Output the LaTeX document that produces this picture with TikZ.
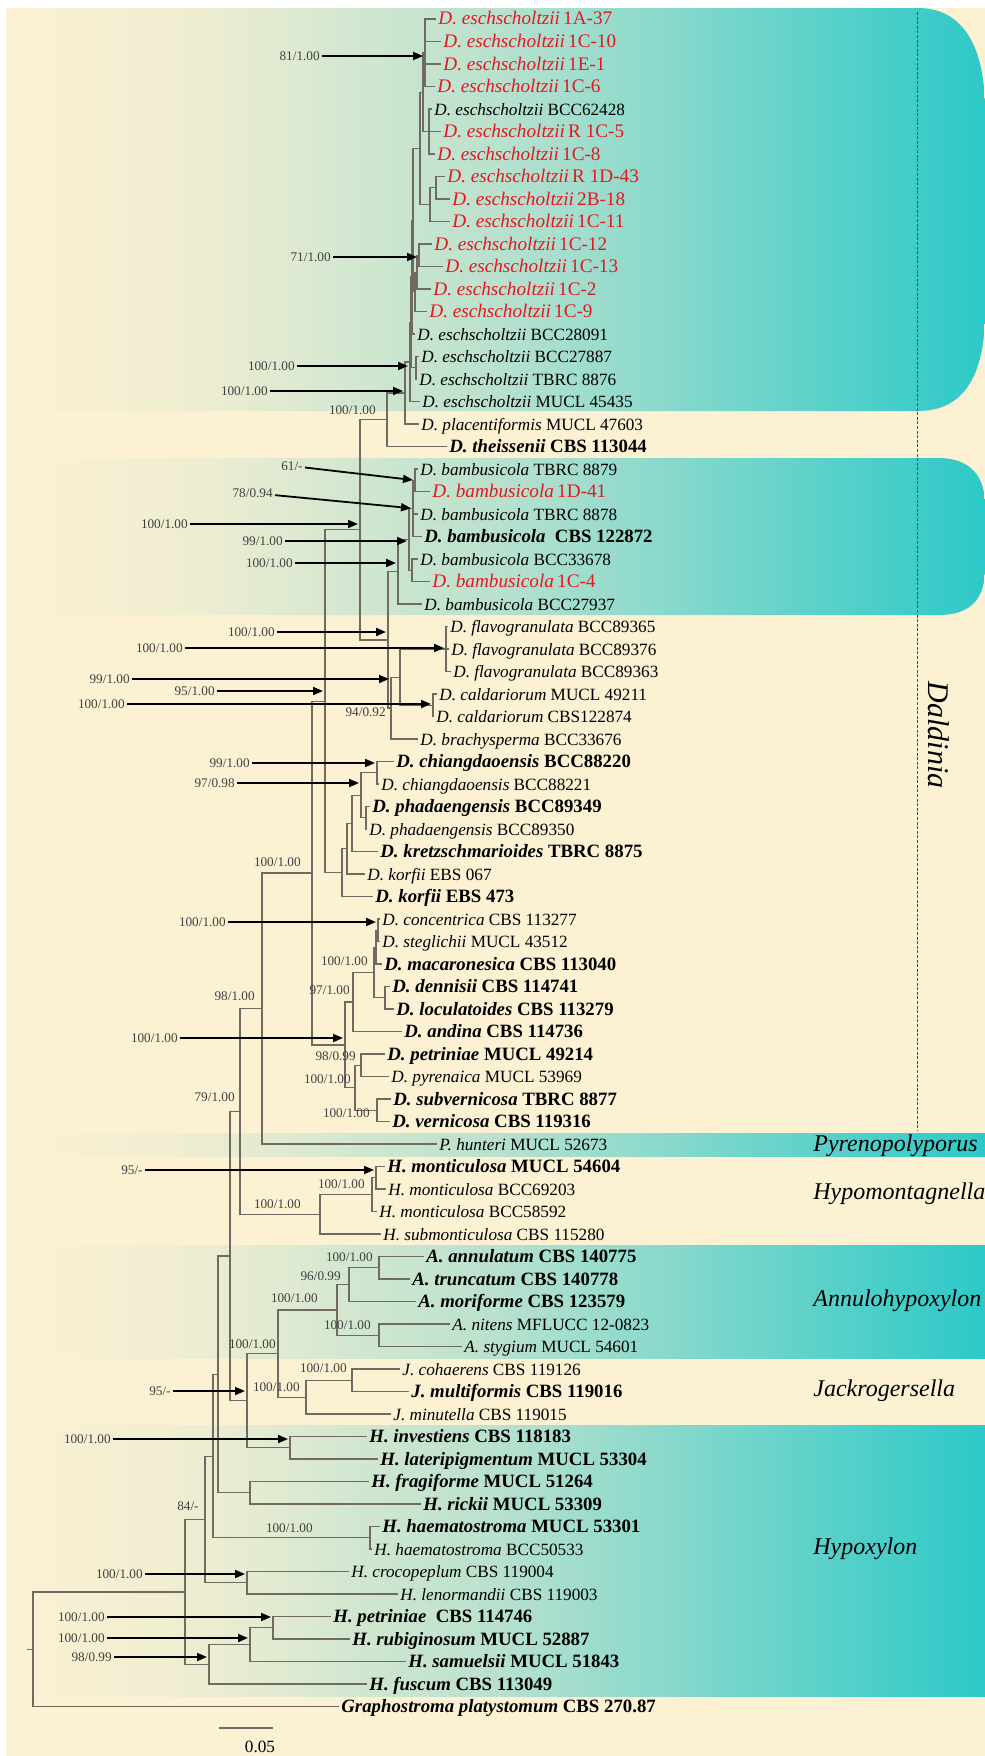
\documentclass[tikz,border=0pt]{standalone}
\usepackage{fontspec}
\setmainfont{Liberation Serif}
\usepackage{xcolor}
\usepackage{tikz}
\usetikzlibrary{calc, arrows.meta, positioning}

\definecolor{paper}{RGB}{253,241,211}
\definecolor{bandA}{RGB}{238,237,209}
\definecolor{bandB}{RGB}{185,225,206}
\definecolor{tealband}{RGB}{44,201,200}
\definecolor{branch}{RGB}{112,106,96}
\definecolor{redlab}{RGB}{228,24,32}

\pgfdeclarehorizontalshading{bandfade}{100bp}{color(0bp)=(paper); color(25bp)=(paper); color(35bp)=(bandA); color(50bp)=(bandB); color(75bp)=(tealband); color(100bp)=(tealband)}

\newcommand{\spc}[2]{\textit{#1} #2}
\newcommand{\spr}[2]{\textit{#1}\,#2}

\begin{document}
\begin{tikzpicture}[x=0.5pt, y=-0.5pt]
            %Block styles
            \tikzstyle{br} = [draw=branch, line width=0.6pt]
            \tikzstyle{leaf} = [anchor=west, inner sep=1pt, text height=6pt, text depth=0pt, font=\fontsize{8.6}{10}\selectfont, text=black]
            \tikzstyle{leafr} = [leaf, font=\fontsize{9.6}{11}\selectfont, text=redlab]
            \tikzstyle{leafb} = [leaf, font=\fontsize{9.4}{11}\selectfont\bfseries]
            \tikzstyle{sup} = [anchor=east, inner sep=1pt, font=\fontsize{6.6}{8}\selectfont, text=black!75]
            \tikzstyle{arr} = [-{Triangle[length=5pt,width=4pt]}, line width=0.9pt, shorten >=1pt]
            \tikzstyle{genus} = [anchor=west, inner sep=0pt, font=\fontsize{12}{14}\selectfont\itshape]

            \useasboundingbox (0,0) rectangle (985,1756);

            %Background and bands
            \fill[white] (0,0) rectangle (985,1756);
            \fill[paper] (6,8) rectangle (985,1756);
            \shade[shading=bandfade] (6,8) -- (918,8) .. controls (962,8) and (985,45) .. (985,110) -- (985,312) .. controls (985,378) and (962,411) .. (918,411) -- (6,411) -- cycle;
            \shade[shading=bandfade] (6,458) -- (938,458) .. controls (972,458) and (985,478) .. (985,505) -- (985,568) .. controls (985,598) and (972,615) .. (938,615) -- (6,615) -- cycle;
            \shade[shading=bandfade] (6,1133) rectangle (985,1156);
            \shade[shading=bandfade] (6,1245) rectangle (985,1358);
            \shade[shading=bandfade] (6,1425) rectangle (985,1696);
            \draw[black!70, line width=0.5pt, dash pattern=on 1.5pt off 0.8pt] (917,12) -- (917,1130);

            %Genera
            \node[genus, anchor=center, rotate=-90, font=\fontsize{15}{17}\selectfont\itshape] (gdal) at (939,735) {Daldinia};
            \node[genus] (gpyr) at (813,1146) {Pyrenopolyporus};
            \node[genus] (ghym) at (813,1194) {Hypomontagnella};
            \node[genus] (gann) at (813,1301) {Annulohypoxylon};
            \node[genus] (gjac) at (813,1391) {Jackrogersella};
            \node[genus] (ghyp) at (813,1549) {Hypoxylon};

            %Taxa
            \node[leafr] (t1) at (436,19) {\spr{D. eschscholtzii}{1A-37}};
            \node[leafr] (t2) at (441,41.5) {\spr{D. eschscholtzii}{1C-10}};
            \node[leafr] (t3) at (441,64) {\spr{D. eschscholtzii}{1E-1}};
            \node[leafr] (t4) at (435,86.5) {\spr{D. eschscholtzii}{1C-6}};
            \node[leaf] (t5) at (432,109) {\spc{D. eschscholtzii}{BCC62428}};
            \node[leafr] (t6) at (441,131.5) {\spr{D. eschscholtzii}{R 1C-5}};
            \node[leafr] (t7) at (435,154) {\spr{D. eschscholtzii}{1C-8}};
            \node[leafr] (t8) at (445,176.5) {\spr{D. eschscholtzii}{R 1D-43}};
            \node[leafr] (t9) at (450,199) {\spr{D. eschscholtzii}{2B-18}};
            \node[leafr] (t10) at (450,221.5) {\spr{D. eschscholtzii}{1C-11}};
            \node[leafr] (t11) at (432,244) {\spr{D. eschscholtzii}{1C-12}};
            \node[leafr] (t12) at (443,266.5) {\spr{D. eschscholtzii}{1C-13}};
            \node[leafr] (t13) at (431,289) {\spr{D. eschscholtzii}{1C-2}};
            \node[leafr] (t14) at (427,311.5) {\spr{D. eschscholtzii}{1C-9}};
            \node[leaf] (t15) at (415,334) {\spc{D. eschscholtzii}{BCC28091}};
            \node[leaf] (t16) at (419,356.5) {\spc{D. eschscholtzii}{BCC27887}};
            \node[leaf] (t17) at (417,379) {\spc{D. eschscholtzii}{TBRC 8876}};
            \node[leaf] (t18) at (420,401.5) {\spc{D. eschscholtzii}{MUCL 45435}};
            \node[leaf] (t19) at (419,424) {\spc{D. placentiformis}{MUCL 47603}};
            \node[leafb] (t20) at (447,446.5) {\spc{D. theissenii}{CBS 113044}};
            \node[leaf] (t21) at (418,469) {\spc{D. bambusicola}{TBRC 8879}};
            \node[leafr] (t22) at (430,491.5) {\spr{D. bambusicola}{1D-41}};
            \node[leaf] (t23) at (418,514) {\spc{D. bambusicola}{TBRC 8878}};
            \node[leafb] (t24) at (422,536.5) {\spc{D. bambusicola}{\ CBS 122872}};
            \node[leaf] (t25) at (418,559) {\spc{D. bambusicola}{BCC33678}};
            \node[leafr] (t26) at (430,581.5) {\spr{D. bambusicola}{1C-4}};
            \node[leaf] (t27) at (422,604) {\spc{D. bambusicola}{BCC27937}};
            \node[leaf] (t28) at (448,626.5) {\spc{D. flavogranulata}{BCC89365}};
            \node[leaf] (t29) at (449,649) {\spc{D. flavogranulata}{BCC89376}};
            \node[leaf] (t30) at (451,671.5) {\spc{D. flavogranulata}{BCC89363}};
            \node[leaf] (t31) at (437,694) {\spc{D. caldariorum}{MUCL 49211}};
            \node[leaf] (t32) at (434,716.5) {\spc{D. caldariorum}{CBS122874}};
            \node[leaf] (t33) at (418,739) {\spc{D. brachysperma}{BCC33676}};
            \node[leafb] (t34) at (394,761.5) {\spc{D. chiangdaoensis}{BCC88220}};
            \node[leaf] (t35) at (379,784) {\spc{D. chiangdaoensis}{BCC88221}};
            \node[leafb] (t36) at (370,806.5) {\spc{D. phadaengensis}{BCC89349}};
            \node[leaf] (t37) at (367,829) {\spc{D. phadaengensis}{BCC89350}};
            \node[leafb] (t38) at (378,851.5) {\spc{D. kretzschmarioides}{TBRC 8875}};
            \node[leaf] (t39) at (365,874) {\spc{D. korfii}{EBS 067}};
            \node[leafb] (t40) at (373,896.5) {\spc{D. korfii}{EBS 473}};
            \node[leaf] (t41) at (380,919) {\spc{D. concentrica}{CBS 113277}};
            \node[leaf] (t42) at (380,941.5) {\spc{D. steglichii}{MUCL 43512}};
            \node[leafb] (t43) at (382,964) {\spc{D. macaronesica}{CBS 113040}};
            \node[leafb] (t44) at (390,986.5) {\spc{D. dennisii}{CBS 114741}};
            \node[leafb] (t45) at (394,1009) {\spc{D. loculatoides}{CBS 113279}};
            \node[leafb] (t46) at (402,1031.5) {\spc{D. andina}{CBS 114736}};
            \node[leafb] (t47) at (385,1054) {\spc{D. petriniae}{MUCL 49214}};
            \node[leaf] (t48) at (389,1076.5) {\spc{D. pyrenaica}{MUCL 53969}};
            \node[leafb] (t49) at (391,1099) {\spc{D. subvernicosa}{TBRC 8877}};
            \node[leafb] (t50) at (390,1121.5) {\spc{D. vernicosa}{CBS 119316}};
            \node[leaf] (t51) at (437,1144) {\spc{P. hunteri}{MUCL 52673}};
            \node[leafb] (t52) at (385,1166.5) {\spc{H. monticulosa}{MUCL 54604}};
            \node[leaf] (t53) at (386,1189) {\spc{H. monticulosa}{BCC69203}};
            \node[leaf] (t54) at (377,1211.5) {\spc{H. monticulosa}{BCC58592}};
            \node[leaf] (t55) at (381,1234) {\spc{H. submonticulosa}{CBS 115280}};
            \node[leafb] (t56) at (424,1256.5) {\spc{A. annulatum}{CBS 140775}};
            \node[leafb] (t57) at (410,1279) {\spc{A. truncatum}{CBS 140778}};
            \node[leafb] (t58) at (416,1301.5) {\spc{A. moriforme}{CBS 123579}};
            \node[leaf] (t59) at (450,1324) {\spc{A. nitens}{MFLUCC 12-0823}};
            \node[leaf] (t60) at (462,1346.5) {\spc{A. stygium}{MUCL 54601}};
            \node[leaf] (t61) at (400,1369) {\spc{J. cohaerens}{CBS 119126}};
            \node[leafb] (t62) at (409,1391.5) {\spc{J. multiformis}{CBS 119016}};
            \node[leaf] (t63) at (391,1414) {\spc{J. minutella}{CBS 119015}};
            \node[leafb] (t64) at (367,1436.5) {\spc{H. investiens}{CBS 118183}};
            \node[leafb] (t65) at (378,1459) {\spc{H. lateripigmentum}{MUCL 53304}};
            \node[leafb] (t66) at (369,1481.5) {\spc{H. fragiforme}{MUCL 51264}};
            \node[leafb] (t67) at (421,1504) {\spc{H. rickii}{MUCL 53309}};
            \node[leafb] (t68) at (380,1526.5) {\spc{H. haematostroma}{MUCL 53301}};
            \node[leaf] (t69) at (372,1549) {\spc{H. haematostroma}{BCC50533}};
            \node[leaf] (t70) at (349,1571.5) {\spc{H. crocopeplum}{CBS 119004}};
            \node[leaf] (t71) at (398,1594) {\spc{H. lenormandii}{CBS 119003}};
            \node[leafb] (t72) at (331,1616.5) {\spc{H. petriniae}{\ CBS 114746}};
            \node[leafb] (t73) at (350,1639) {\spc{H. rubiginosum}{MUCL 52887}};
            \node[leafb] (t74) at (406,1661.5) {\spc{H. samuelsii}{MUCL 51843}};
            \node[leafb] (t75) at (367,1684) {\spc{H. fuscum}{CBS 113049}};
            \node[leafb] (t76) at (339,1706.5) {\spc{Graphostroma platystomum}{CBS 270.87}};

            %Internal nodes
            \coordinate (esA) at (425,52.75);
            \coordinate (esB) at (429,131.5);
            \coordinate (esAB) at (423,92.1);
            \coordinate (esC) at (436,187.75);
            \coordinate (esCD) at (430,204.6);
            \coordinate (esAD) at (420,148.4);
            \coordinate (es71) at (419,255.25);
            \coordinate (esE) at (417,272.1);
            \coordinate (esF) at (415,291.8);
            \coordinate (esRed) at (413,220.1);
            \coordinate (esG) at (412,277);
            \coordinate (esH) at (416,367.75);
            \coordinate (esI) at (411,322.4);
            \coordinate (esAll) at (410,362);
            \coordinate (plac) at (405,393);
            \coordinate (theis) at (387,419.75);
            \coordinate (bam61) at (415,480.25);
            \coordinate (bam78) at (413,508.4);
            \coordinate (bamC) at (412,570.25);
            \coordinate (bam99) at (409,539.3);
            \coordinate (bamAll) at (398,571.7);
            \coordinate (flav) at (446,649);
            \coordinate (cald) at (433,705.25);
            \coordinate (flca) at (400,677.1);
            \coordinate (brac) at (391,708);
            \coordinate (bafc) at (388,639.9);
            \coordinate (dalA) at (360,529.8);
            \coordinate (chia) at (377,772.75);
            \coordinate (phad) at (366,817.75);
            \coordinate (chph) at (361,795.25);
            \coordinate (kret) at (352,823.4);
            \coordinate (korA) at (347,848.7);
            \coordinate (korB) at (342,872.6);
            \coordinate (dalB) at (325,701.2);
            \coordinate (conc) at (378,930.25);
            \coordinate (maca) at (376,947.1);
            \coordinate (denn) at (385,997.75);
            \coordinate (cmdl) at (374,972.4);
            \coordinate (andi) at (353,1002);
            \coordinate (petr) at (361,1065.25);
            \coordinate (vern) at (377,1110.25);
            \coordinate (pesv) at (355,1087.75);
            \coordinate (dalC) at (345,1044.9);
            \coordinate (dalD) at (312,873);
            \coordinate (pyre) at (262,1008.5);
            \coordinate (monA) at (376,1177.75);
            \coordinate (monB) at (372,1194.6);
            \coordinate (hypm) at (320,1214.3);
            \coordinate (dphm) at (240,1111.4);
            \coordinate (annA) at (379,1267.75);
            \coordinate (annB) at (349,1284.6);
            \coordinate (nist) at (379,1335.25);
            \coordinate (annu) at (337,1309.9);
            \coordinate (jacA) at (352,1380.25);
            \coordinate (jack) at (306,1397.1);
            \coordinate (anja) at (278,1353.5);
            \coordinate (inve) at (290,1447.75);
            \coordinate (ajin) at (247,1400.6);
            \coordinate (nodA) at (230,1256);
            \coordinate (frag) at (250,1492.75);
            \coordinate (nodB) at (218,1374.4);
            \coordinate (haem) at (370,1537.75);
            \coordinate (nodC) at (213,1456.1);
            \coordinate (croc) at (247,1582.75);
            \coordinate (nodD) at (205,1519.4);
            \coordinate (rubi) at (273,1627.75);
            \coordinate (samu) at (250,1644.6);
            \coordinate (fusc) at (209,1664.3);
            \coordinate (nod84) at (185,1591.9);
            \coordinate (root) at (33,1649.2);
            \coordinate (rootin) at (27,1649.2);

            %Branches
            \draw[br] (esA) |- (t1.west) (esA) |- (t2.west) (esA) |- (t3.west) (esA) |- (t4.west);
            \draw[br] (esB) |- (t5.west) (esB) |- (t6.west) (esB) |- (t7.west);
            \draw[br] (esAB) |- (esA) (esAB) |- (esB);
            \draw[br] (esC) |- (t8.west) (esC) |- (t9.west);
            \draw[br] (esCD) |- (esC) (esCD) |- (t10.west);
            \draw[br] (esAD) |- (esAB) (esAD) |- (esCD);
            \draw[br] (es71) |- (t11.west) (es71) |- (t12.west);
            \draw[br] (esE) |- (es71) (esE) |- (t13.west);
            \draw[br] (esF) |- (esE) (esF) |- (t14.west);
            \draw[br] (esRed) |- (esAD) (esRed) |- (esF);
            \draw[br] (esG) |- (esRed) (esG) |- (t15.west);
            \draw[br] (esH) |- (t16.west) (esH) |- (t17.west);
            \draw[br] (esI) |- (esG) (esI) |- (esH);
            \draw[br] (esAll) |- (esI) (esAll) |- (t18.west);
            \draw[br] (plac) |- (esAll) (plac) |- (t19.west);
            \draw[br] (theis) |- (plac) (theis) |- (t20.west);
            \draw[br] (bam61) |- (t21.west) (bam61) |- (t22.west);
            \draw[br] (bam78) |- (bam61) (bam78) |- (t23.west) (bam78) |- (t24.west);
            \draw[br] (bamC) |- (t25.west) (bamC) |- (t26.west);
            \draw[br] (bam99) |- (bam78) (bam99) |- (bamC);
            \draw[br] (bamAll) |- (bam99) (bamAll) |- (t27.west);
            \draw[br] (flav) |- (t28.west) (flav) |- (t29.west) (flav) |- (t30.west);
            \draw[br] (cald) |- (t31.west) (cald) |- (t32.west);
            \draw[br] (flca) |- (flav) (flca) |- (cald);
            \draw[br] (brac) |- (flca) (brac) |- (t33.west);
            \draw[br] (bafc) |- (bamAll) (bafc) |- (brac);
            \draw[br] (dalA) |- (theis) (dalA) |- (bafc);
            \draw[br] (chia) |- (t34.west) (chia) |- (t35.west);
            \draw[br] (phad) |- (t36.west) (phad) |- (t37.west);
            \draw[br] (chph) |- (chia) (chph) |- (phad);
            \draw[br] (kret) |- (chph) (kret) |- (t38.west);
            \draw[br] (korA) |- (kret) (korA) |- (t39.west);
            \draw[br] (korB) |- (korA) (korB) |- (t40.west);
            \draw[br] (dalB) |- (dalA) (dalB) |- (korB);
            \draw[br] (conc) |- (t41.west) (conc) |- (t42.west);
            \draw[br] (maca) |- (conc) (maca) |- (t43.west);
            \draw[br] (denn) |- (t44.west) (denn) |- (t45.west);
            \draw[br] (cmdl) |- (maca) (cmdl) |- (denn);
            \draw[br] (andi) |- (cmdl) (andi) |- (t46.west);
            \draw[br] (petr) |- (t47.west) (petr) |- (t48.west);
            \draw[br] (vern) |- (t49.west) (vern) |- (t50.west);
            \draw[br] (pesv) |- (petr) (pesv) |- (vern);
            \draw[br] (dalC) |- (andi) (dalC) |- (pesv);
            \draw[br] (dalD) |- (dalB) (dalD) |- (dalC);
            \draw[br] (pyre) |- (dalD) (pyre) |- (t51.west);
            \draw[br] (monA) |- (t52.west) (monA) |- (t53.west);
            \draw[br] (monB) |- (monA) (monB) |- (t54.west);
            \draw[br] (hypm) |- (monB) (hypm) |- (t55.west);
            \draw[br] (dphm) |- (pyre) (dphm) |- (hypm);
            \draw[br] (annA) |- (t56.west) (annA) |- (t57.west);
            \draw[br] (annB) |- (annA) (annB) |- (t58.west);
            \draw[br] (nist) |- (t59.west) (nist) |- (t60.west);
            \draw[br] (annu) |- (annB) (annu) |- (nist);
            \draw[br] (jacA) |- (t61.west) (jacA) |- (t62.west);
            \draw[br] (jack) |- (jacA) (jack) |- (t63.west);
            \draw[br] (anja) |- (annu) (anja) |- (jack);
            \draw[br] (inve) |- (t64.west) (inve) |- (t65.west);
            \draw[br] (ajin) |- (anja) (ajin) |- (inve);
            \draw[br] (nodA) |- (dphm) (nodA) |- (ajin);
            \draw[br] (frag) |- (t66.west) (frag) |- (t67.west);
            \draw[br] (nodB) |- (nodA) (nodB) |- (frag);
            \draw[br] (haem) |- (t68.west) (haem) |- (t69.west);
            \draw[br] (nodC) |- (nodB) (nodC) |- (haem);
            \draw[br] (croc) |- (t70.west) (croc) |- (t71.west);
            \draw[br] (nodD) |- (nodC) (nodD) |- (croc);
            \draw[br] (rubi) |- (t72.west) (rubi) |- (t73.west);
            \draw[br] (samu) |- (rubi) (samu) |- (t74.west);
            \draw[br] (fusc) |- (samu) (fusc) |- (t75.west);
            \draw[br] (nod84) |- (nodD) (nod84) |- (fusc);
            \draw[br] (root) |- (nod84) (root) |- (t76.west);
            \draw[br] (rootin) -- (root);

            %Support values on branches
            \node[sup] (b1) at (378,410) {100/1.00};
            \node[sup] (b2) at (388,712) {94/0.92};
            \node[sup] (b3) at (303,862) {100/1.00};
            \node[sup] (b4) at (370,961) {100/1.00};
            \node[sup] (b5) at (257,996) {98/1.00};
            \node[sup] (b6) at (352,990) {97/1.00};
            \node[sup] (b7) at (358,1056) {98/0.99};
            \node[sup] (b8) at (353,1079) {100/1.00};
            \node[sup] (b9) at (237,1097) {79/1.00};
            \node[sup] (b10) at (372,1113) {100/1.00};
            \node[sup] (b11) at (367,1184) {100/1.00};
            \node[sup] (b12) at (303,1204) {100/1.00};
            \node[sup] (b13) at (375,1257) {100/1.00};
            \node[sup] (b14) at (343,1276) {96/0.99};
            \node[sup] (b15) at (320,1298) {100/1.00};
            \node[sup] (b16) at (373,1325) {100/1.00};
            \node[sup] (b17) at (278,1344) {100/1.00};
            \node[sup] (b18) at (349,1368) {100/1.00};
            \node[sup] (b19) at (302,1387) {100/1.00};
            \node[sup] (b20) at (201,1506) {84/-};
            \node[sup] (b21) at (315,1528) {100/1.00};

            %Support values with arrows
            \node[sup] (s1) at (322,56) {81/1.00};
            \node[sup] (s2) at (333,257) {71/1.00};
            \node[sup] (s3) at (297,366) {100/1.00};
            \node[sup] (s4) at (270,391) {100/1.00};
            \node[sup] (s5) at (305,466) {61/-};
            \node[sup] (s6) at (275,493) {78/0.94};
            \node[sup] (s7) at (190,524) {100/1.00};
            \node[sup] (s8) at (285,541) {99/1.00};
            \node[sup] (s9) at (295,563) {100/1.00};
            \node[sup] (s10) at (277,632) {100/1.00};
            \node[sup] (s11) at (185,648) {100/1.00};
            \node[sup] (s12) at (132,679) {99/1.00};
            \node[sup] (s13) at (217,691) {95/1.00};
            \node[sup] (s14) at (127,704) {100/1.00};
            \node[sup] (s15) at (252,763) {99/1.00};
            \node[sup] (s16) at (237,783) {97/0.98};
            \node[sup] (s17) at (228,922) {100/1.00};
            \node[sup] (s18) at (180,1038) {100/1.00};
            \node[sup] (s19) at (145,1170) {95/-};
            \node[sup] (s20) at (173,1391) {95/-};
            \node[sup] (s21) at (113,1439) {100/1.00};
            \node[sup] (s22) at (145,1574) {100/1.00};
            \node[sup] (s23) at (107,1617) {100/1.00};
            \node[sup] (s24) at (107,1638) {100/1.00};
            \node[sup] (s25) at (114,1657) {98/0.99};

            \draw[arr] (s1) -- (s1 -| esA);
            \draw[arr] (s2) -- (s2 -| es71);
            \draw[arr] (s3) -- (s3 -| esAll);
            \draw[arr] (s4) -- (s4 -| plac);
            \draw[arr] (s5) -- (bam61);
            \draw[arr] (s6) -- (bam78);
            \draw[arr] (s7) -- (s7 -| dalA);
            \draw[arr] (s8) -- (s8 -| bam99);
            \draw[arr] (s9) -- (s9 -| bamAll);
            \draw[arr] (s10) -- (s10 -| bafc);
            \draw[arr] (s11) -- (s11 -| flav);
            \draw[arr] (s12) -- (s12 -| brac);
            \draw[arr] (s13) -- (s13 -| dalB);
            \draw[arr] (s14) -- (s14 -| cald);
            \draw[arr] (s15) -- (s15 -| chia);
            \draw[arr] (s16) -- (s16 -| chph);
            \draw[arr] (s17) -- (s17 -| conc);
            \draw[arr] (s18) -- (s18 -| dalC);
            \draw[arr] (s19) -- (s19 -| monA);
            \draw[arr] (s20) -- (s20 -| ajin);
            \draw[arr] (s21) -- (s21 -| inve);
            \draw[arr] (s22) -- (s22 -| croc);
            \draw[arr] (s23) -- (s23 -| rubi);
            \draw[arr] (s24) -- (s24 -| samu);
            \draw[arr] (s25) -- (s25 -| fusc);

            %Scale bar
            \coordinate (sbl) at (219,1728);
            \coordinate (sbr) at (273,1728);
            \draw[br] (sbl) -- (sbr);
            \node[leaf, anchor=center] (sbt) at (260,1746) {0.05};
        \end{tikzpicture}
\end{document}
